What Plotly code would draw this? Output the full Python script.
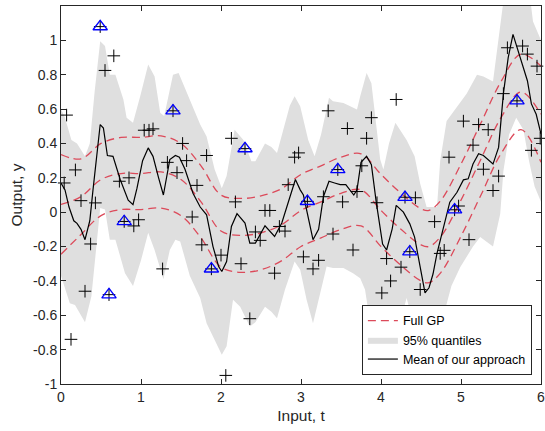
import plotly.graph_objects as go

# ---------------- data ----------------
# observed data points (crosses)
obs_t = [0.04, 0.07, 0.125, 0.18, 0.25, 0.30, 0.37, 0.43, 0.49, 0.55, 0.60, 0.66, 0.73, 0.79, 0.85,
         0.91, 0.97, 1.04, 1.10, 1.15, 1.27, 1.33, 1.40, 1.45, 1.52, 1.57, 1.64, 1.70, 1.76, 1.82,
         1.88, 2.00, 2.06, 2.13, 2.18, 2.25, 2.30, 2.36, 2.43, 2.49, 2.55, 2.61, 2.67, 2.73, 2.80,
         2.84, 2.92, 2.97, 3.03, 3.08, 3.15, 3.22, 3.28, 3.34, 3.40, 3.46, 3.52, 3.58, 3.65, 3.70,
         3.76, 3.82, 3.88, 3.95, 4.01, 4.07, 4.12, 4.19, 4.25, 4.30, 4.36, 4.43, 4.49, 4.67, 4.74,
         4.79, 4.85, 4.92, 4.97, 5.03, 5.10, 5.15, 5.22, 5.28, 5.34, 5.40, 5.47, 5.53, 5.58, 5.70,
         5.77, 5.83, 5.88, 5.95, 5.99]
obs_y = [0.17, 0.565, -0.74, 0.246, 0.067, -0.46, -0.185, 0.054, 1.08, 0.825, -0.48, 0.91, 0.18, -0.054, 0.20,
         -0.08, -0.044, 0.477, 0.477, 0.485, -0.33, 0.29, 0.59, 0.23, 0.40, 0.30, -0.028, 0.156, -0.19, 0.33,
         -0.33, -0.25, -0.95, 0.43, 0.06, -0.30, 0.37, -0.62, -0.115, -0.164, 0.01, 0.01, -0.355, -0.083, -0.11,
         0.16, 0.32, 0.345, -0.26, 0.063, -0.33, -0.28, 0.09, 0.59, -0.127, 0.248, 0.06, 0.487, -0.22, 0.12,
         0.27, 0.43, 0.55, 0.055, -0.47, -0.27, -0.40, 0.656, -0.32, 0.087, -0.23, 0.084, -0.45, -0.055, -0.24,
         -0.222, 0.32, 0.014, 0.036, 0.53, -0.16, 0.39, 0.51, 0.25, 0.48, 0.126, 0.21, 0.69, 0.957, 0.648,
         0.967, 0.92, 0.36, 0.85, 0.43]

# selected points (blue triangles)
sel_t = [0.49, 0.60, 0.79, 1.40, 1.88, 2.30, 3.08, 3.46, 4.30, 4.36, 4.92, 5.70]
sel_y = [1.08, -0.48, -0.054, 0.59, -0.33, 0.37, 0.063, 0.248, 0.087, -0.23, 0.014, 0.648]

# full GP mean and half width of its band
gp_t = [0.0, 0.25, 0.5, 0.75, 1.0, 1.25, 1.5, 1.75, 2.0, 2.25, 2.5, 2.75, 3.0, 3.25,
        3.5, 3.75, 4.0, 4.25, 4.5, 4.6, 4.75, 5.0, 5.25, 5.5, 5.75, 6.0]
gp_mean = [0.045, 0.09, 0.19, 0.225, 0.225, 0.234, 0.19, 0.06, -0.11, -0.135, -0.12, -0.075, 0.01, 0.06,
           0.11, 0.13, 0.01, -0.10, -0.19, -0.20, -0.14, 0.07, 0.31, 0.55, 0.70, 0.57]
gp_half = [0.29, 0.22, 0.21, 0.21, 0.21, 0.21, 0.21, 0.21, 0.21, 0.215, 0.215, 0.21, 0.21, 0.21,
           0.21, 0.21, 0.21, 0.21, 0.21, 0.21, 0.21, 0.21, 0.21, 0.21, 0.22, 0.28]

# mean of our approach
m_t = [0.0, 0.05, 0.10, 0.16, 0.20, 0.25, 0.30, 0.36, 0.40, 0.45, 0.49, 0.53, 0.58, 0.65, 0.74, 0.84,
       0.90, 0.95, 1.02, 1.09, 1.15, 1.22, 1.28, 1.36, 1.43, 1.48, 1.55, 1.65, 1.74, 1.82, 1.90, 1.97,
       2.01, 2.07, 2.13, 2.20, 2.30, 2.36, 2.43, 2.55, 2.61, 2.67, 2.76, 2.85, 2.93, 2.99, 3.03, 3.15,
       3.22, 3.28, 3.35, 3.42, 3.49, 3.56, 3.63, 3.66, 3.70, 3.75, 3.82, 3.88, 3.94, 4.02, 4.07, 4.14,
       4.19, 4.28, 4.36, 4.42, 4.49, 4.55, 4.60, 4.65, 4.70, 4.78, 4.86, 4.95, 5.03, 5.09, 5.15, 5.22,
       5.28, 5.40, 5.47, 5.53, 5.59, 5.65, 5.74, 5.83, 5.88, 5.94, 6.0]
m_y = [0.17, 0.13, 0.03, -0.05, -0.065, -0.10, -0.16, -0.05, 0.13, 0.35, 0.51, 0.49, 0.33, 0.325, 0.19, 0.07,
       0.044, 0.14, 0.30, 0.374, 0.325, 0.20, 0.10, 0.306, 0.33, 0.32, 0.25, 0.11, 0.03, -0.015, -0.20, -0.316,
       -0.345, -0.287, -0.083, -0.009, -0.063, -0.18, -0.18, -0.079, -0.11, -0.141, -0.063, 0.073, 0.19, 0.13, 0.10, -0.16,
       -0.10, 0.09, 0.18, 0.17, 0.16, 0.16, 0.12, 0.10, 0.13, 0.29, 0.325, 0.277, 0.06, -0.185, -0.22, -0.097,
       0.04, 0.0, -0.068, -0.145, -0.32, -0.47, -0.44, -0.36, -0.24, -0.087, 0.058, 0.116, 0.188, 0.194, 0.28, 0.34,
       0.33, 0.28, 0.377, 0.69, 0.90, 1.035, 0.90, 0.765, 0.63, 0.57, 0.455]

# 95% quantile band of our approach
qu_t = [0.0, 0.05, 0.13, 0.20, 0.30, 0.36, 0.42, 0.49, 0.55, 0.61, 0.68, 0.78, 0.82, 0.90, 0.99, 1.09,
        1.17, 1.24, 1.29, 1.40, 1.47, 1.61, 1.74, 1.82, 1.92, 2.01, 2.07, 2.17, 2.28, 2.38, 2.43, 2.55,
        2.63, 2.70, 2.80, 2.86, 2.92, 2.99, 3.09, 3.17, 3.25, 3.35, 3.40, 3.53, 3.70, 3.74, 3.82, 3.88,
        3.99, 4.03, 4.10, 4.18, 4.32, 4.42, 4.49, 4.57, 4.70, 4.74, 4.82, 4.95, 5.07, 5.20, 5.28, 5.40,
        5.49, 5.55, 5.85, 5.90, 6.0]
qu_y = [0.60, 0.55, 0.42, 0.40, 0.325, 0.40, 0.70, 0.995, 0.967, 0.80, 0.80, 0.656, 0.55, 0.52, 0.675, 0.86,
        0.79, 0.578, 0.56, 0.80, 0.81, 0.656, 0.51, 0.44, 0.25, 0.14, 0.21, 0.48, 0.42, 0.296, 0.296, 0.40,
        0.38, 0.345, 0.52, 0.62, 0.675, 0.617, 0.42, 0.325, 0.45, 0.666, 0.646, 0.636, 0.598, 0.675, 0.81, 0.75,
        0.306, 0.248, 0.40, 0.52, 0.42, 0.325, 0.165, 0.03, 0.03, 0.30, 0.53, 0.61, 0.69, 0.80, 0.79, 0.76,
        1.11, 1.30, 1.30, 1.11, 1.0]
ql_t = [0.0, 0.11, 0.175, 0.30, 0.38, 0.44, 0.49, 0.55, 0.61, 0.68, 0.80, 0.90, 1.00, 1.09, 1.17, 1.28,
        1.36, 1.43, 1.49, 1.61, 1.74, 1.82, 1.93, 2.01, 2.07, 2.15, 2.24, 2.36, 2.43, 2.55, 2.63, 2.70,
        2.80, 2.92, 2.99, 3.07, 3.15, 3.22, 3.32, 3.40, 3.53, 3.65, 3.74, 3.80, 3.84, 3.92, 4.00, 4.10,
        4.20, 4.28, 4.32, 4.36, 4.45, 4.55, 4.65, 4.72, 4.80, 4.88, 4.99, 5.15, 5.24, 5.40, 5.49, 5.53,
        5.60, 5.69, 5.78, 5.85, 5.92, 6.0]
ql_y = [-0.37, -0.53, -0.54, -0.64, -0.49, -0.20, 0.024, 0.015, -0.16, -0.16, -0.355, -0.43, -0.28, -0.12, -0.22, -0.39,
        -0.22, -0.16, -0.17, -0.37, -0.50, -0.646, -0.75, -0.83, -0.78, -0.51, -0.55, -0.666, -0.64, -0.55, -0.58, -0.617,
        -0.45, -0.287, -0.335, -0.51, -0.646, -0.50, -0.316, -0.325, -0.325, -0.355, -0.384, -0.45, -0.57, -0.80, -0.85, -0.85,
        -0.70, -0.57, -0.50, -0.57, -0.80, -0.95, -0.90, -0.75, -0.57, -0.43, -0.32, -0.20, -0.145, -0.20, -0.01, 0.24,
        0.45, 0.55, 0.48, 0.30, 0.15, 0.06]

x_ticks = [0, 1, 2, 3, 4, 5, 6]
y_ticks = [-1, -0.8, -0.6, -0.4, -0.2, 0, 0.2, 0.4, 0.6, 0.8, 1]
y_tick_text = ["-1", "-0.8", "-0.6", "-0.4", "-0.2", "0", "0.2", "0.4", "0.6", "0.8", "1"]

# ---------------- figure ----------------
RED = "#DC4A5A"
GRAY = "#DFDFDF"
AX = "#262626"
FONT = "Liberation Sans, Arial, Helvetica, sans-serif"

fig = go.Figure()

# quantile band (polygon: upper forward, lower reversed)
fig.add_trace(go.Scatter(
    x=qu_t + ql_t[::-1], y=qu_y + ql_y[::-1],
    fill="toself", fillcolor=GRAY, line=dict(width=0, color=GRAY),
    mode="lines", name="95% quantiles", legendrank=2, hoverinfo="skip"))

gp_upper = [m + h for m, h in zip(gp_mean, gp_half)]
gp_lower = [m - h for m, h in zip(gp_mean, gp_half)]
for i, ys in enumerate([gp_mean, gp_upper, gp_lower]):
    fig.add_trace(go.Scatter(
        x=gp_t, y=ys, mode="lines",
        line=dict(color=RED, width=1.3, dash="8px,5px", shape="spline", smoothing=1.0),
        name="Full GP", legendgroup="gp", showlegend=(i == 0), legendrank=1))

fig.add_trace(go.Scatter(
    x=m_t, y=m_y, mode="lines", line=dict(color="black", width=1.2),
    name="Mean of our approach", legendrank=3))

fig.add_trace(go.Scatter(
    x=obs_t, y=obs_y, mode="markers",
    marker=dict(symbol="cross-thin", size=9, line=dict(color="black", width=1)),
    showlegend=False, cliponaxis=False))

fig.add_trace(go.Scatter(
    x=sel_t, y=sel_y, mode="markers",
    marker=dict(symbol="triangle-up-open", size=12.5, color="#0000FF", line=dict(color="#0000FF", width=1.3)),
    showlegend=False))

axis_common = dict(
    showgrid=False, zeroline=False, showline=True, mirror="ticks",
    linecolor=AX, linewidth=1, ticks="inside", ticklen=5, tickwidth=1, tickcolor=AX,
    ticklabeloverflow="allow",
    tickfont=dict(size=14, color=AX, family=FONT))

fig.update_xaxes(range=[0, 6], tickvals=x_ticks,
                 title=dict(text="Input, t", font=dict(size=15.5, color=AX, family=FONT), standoff=6),
                 **axis_common)
fig.update_yaxes(range=[-1, 1.2], tickvals=y_ticks, ticktext=y_tick_text,
                 title=dict(text="Output, y", font=dict(size=15.5, color=AX, family=FONT), standoff=6),
                 **axis_common)

fig.update_layout(
    width=545, height=431,
    margin=dict(l=61, r=4, t=6, b=47, autoexpand=False),
    plot_bgcolor="white", paper_bgcolor="white",
    font=dict(family=FONT, color=AX),
    legend=dict(x=0.981, y=0.024, xanchor="right", yanchor="bottom",
                bgcolor="white", bordercolor=AX, borderwidth=1,
                font=dict(size=12.5, color="black", family=FONT),
                tracegroupgap=0, itemwidth=30),
    showlegend=True,
)

fig.write_html("out.html", config={"displayModeBar": False},
               post_script="document.body.style.margin='0';document.body.style.padding='0';")
